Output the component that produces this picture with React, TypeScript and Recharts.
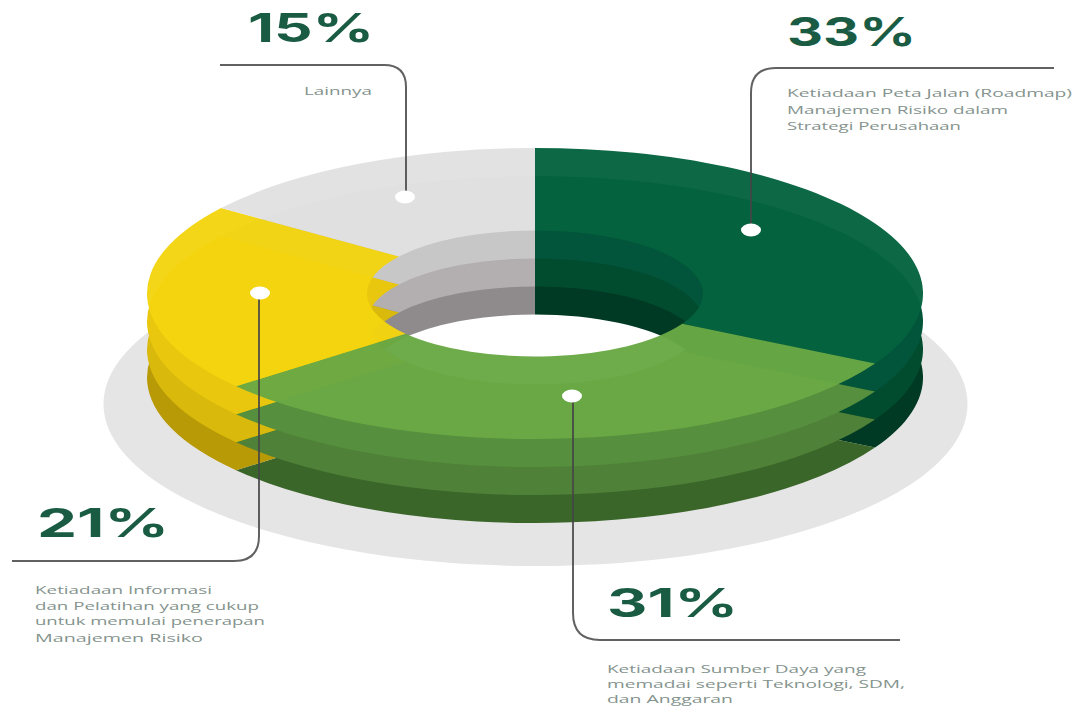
import { PieChart, Pie, Cell } from 'recharts';

// Share of each barrier, clockwise from twelve o'clock
const barriers = ['Peta Jalan', 'Sumber Daya', 'Informasi', 'Lainnya'];
const shares = [33, 31, 21, 15];

// Fill per slice for every level of the stack, lowest first
const levelFills = [
  ['#013a24', '#3b6629', '#b89906', '#8f8b8d'],
  ['#014b2f', '#4f8238', '#d9b90b', '#b3afb1'],
  ['#02553a', '#568f3d', '#e8c70e', '#c8c7c8'],
  ['#05633f', '#69a844', '#f3d50f', '#e1e1e1'],
];

const captions = [
  ['Ketiadaan Peta Jalan (Roadmap)', 'Manajemen Risiko dalam', 'Strategi Perusahaan'],
  ['Ketiadaan Sumber Daya yang', 'memadai seperti Teknologi, SDM,', 'dan Anggaran'],
  ['Ketiadaan Informasi', 'dan Pelatihan yang cukup', 'untuk memulai penerapan', 'Manajemen Risiko'],
  ['Lainnya'],
];

const WIDTH = 1074;
const HEIGHT = 707;

// The round pie is flattened with a CSS transform to get the tilted look
const SQUASH = 0.375;
const CX = 535;
const TOP_CY = 293.5;
const LEVEL_GAP = 28;
const OUTER = 388;
const INNER = 168;

const sliceData = barriers.map((name, i) => ({ name, value: shares[i] }));
const discData = [{ name: 'disc', value: 100 }];

// Callout layout, same order as the slices
const callouts = [
  {
    pct: { x: 787, y: 46, w: 129 },
    lines: [
      { x: 787, y: 97, w: 285 },
      { x: 787, y: 114, w: 221 },
      { x: 787, y: 130, w: 174 },
    ],
    leader: 'M1054 68 H776 Q751 68 751 93 V230',
    dot: { x: 751, y: 230 },
  },
  {
    pct: { x: 607, y: 617, w: 131 },
    lines: [
      { x: 607, y: 673, w: 259 },
      { x: 607, y: 688, w: 298 },
      { x: 607, y: 703, w: 126 },
    ],
    leader: 'M900 640 H600 Q573 640 573 613 V396',
    dot: { x: 572, y: 396 },
  },
  {
    pct: { x: 37, y: 537, w: 132 },
    lines: [
      { x: 35, y: 594, w: 177 },
      { x: 35, y: 610, w: 224 },
      { x: 35, y: 625, w: 230 },
      { x: 35, y: 642, w: 168 },
    ],
    leader: 'M12 561 H234 Q259 561 259 536 V293',
    dot: { x: 260, y: 293 },
  },
  {
    pct: { x: 248, y: 42, w: 126 },
    lines: [{ x: 304, y: 95, w: 68 }],
    leader: 'M220 65 H384 Q406 65 406 87 V197',
    dot: { x: 405, y: 197 },
  },
];

export default function App() {
  const levels = levelFills.length;

  return (
    <div style={{ position: 'absolute', left: 0, top: 0, width: WIDTH, height: HEIGHT, background: '#fff', overflow: 'hidden' }}>
      <div style={{ position: 'absolute', left: 0, top: 0, transform: `scaleY(${SQUASH})`, transformOrigin: 'top left' }}>
        <PieChart width={WIDTH} height={HEIGHT / SQUASH} margin={{ top: 0, right: 0, bottom: 0, left: 0 }}>
          {/* soft shadow disc under the stack */}
          <Pie
            data={discData}
            dataKey="value"
            cx={CX + 0.5}
            cy={404 / SQUASH}
            outerRadius={432}
            innerRadius={0}
            fill="#e6e5e6"
            stroke="none"
            isAnimationActive={false}
          />
          {/* keeps the centre of the ring white */}
          <Pie
            data={discData}
            dataKey="value"
            cx={CX}
            cy={(TOP_CY + LEVEL_GAP) / SQUASH}
            outerRadius={INNER + 2}
            innerRadius={0}
            fill="#ffffff"
            stroke="none"
            isAnimationActive={false}
          />
          {levelFills.map((fills, level) => (
            <Pie
              key={level}
              data={sliceData}
              dataKey="value"
              cx={CX}
              cy={(TOP_CY + (levels - 1 - level) * LEVEL_GAP) / SQUASH}
              outerRadius={OUTER}
              innerRadius={INNER}
              startAngle={90}
              endAngle={-270}
              stroke="none"
              isAnimationActive={false}
            >
              {fills.map((fill, i) => (
                <Cell key={i} fill={fill} fillOpacity={level === levels - 1 ? 0.97 : 1} />
              ))}
            </Pie>
          ))}
        </PieChart>
      </div>

      <svg width={WIDTH} height={HEIGHT} style={{ position: 'absolute', left: 0, top: 0 }}>
        {callouts.map((c, i) => (
          <g key={i}>
            <path d={c.leader} fill="none" stroke="#454545" strokeOpacity={0.85} strokeWidth={2} />
            <ellipse cx={c.dot.x} cy={c.dot.y} rx={10} ry={6.5} fill="#fff" />
            <text
              x={c.pct.x}
              y={c.pct.y}
              textLength={c.pct.w}
              lengthAdjust="spacingAndGlyphs"
              fontFamily="Inter, sans-serif"
              fontWeight={700}
              fontSize={39}
              fill="#1a5c43"
            >
              {shares[i]}%
            </text>
            {captions[i].map((line, j) => (
              <text
                key={j}
                x={c.lines[j].x}
                y={c.lines[j].y}
                textLength={c.lines[j].w}
                lengthAdjust="spacingAndGlyphs"
                fontFamily="'Open Sans', sans-serif"
                fontSize={10.5}
                fill="#84938d"
              >
                {line}
              </text>
            ))}
          </g>
        ))}
      </svg>
    </div>
  );
}
